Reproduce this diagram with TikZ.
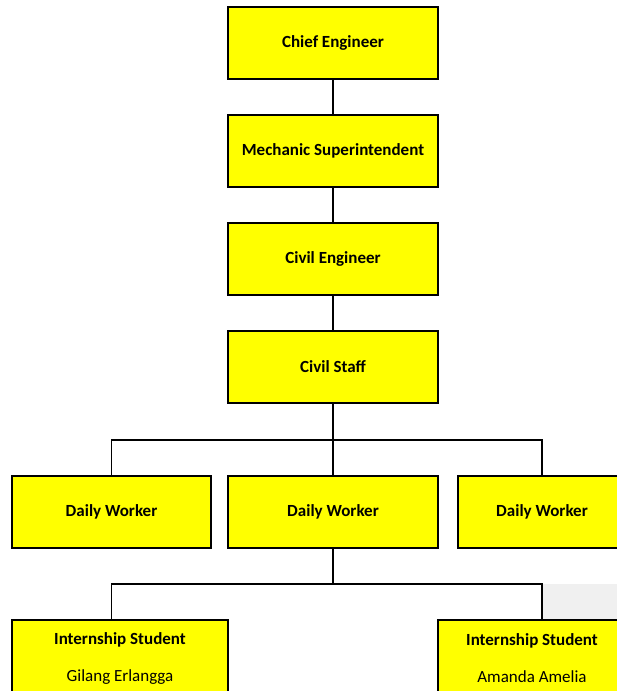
\documentclass[tikz,border=0pt]{standalone}
\usepackage{fontspec}
\setmainfont{Carlito}
\usepackage{tikz}
\usetikzlibrary{positioning,calc}
\definecolor{boxyellow}{RGB}{255,255,0}

\begin{document}
\begin{tikzpicture}[x=1pt,y=-1pt,
  box/.style={draw=black,line width=2pt,fill=boxyellow,minimum height=72pt,inner sep=0pt,font=\bfseries\fontsize{17}{20}\selectfont},
  link/.style={black,line width=1.6pt}]
\useasboundingbox (0,0) rectangle (617,691);
\clip (0,0) rectangle (617,691);
\fill[gray!12] (543,584) rectangle (617,620);
\node[box,minimum width=210pt] (ce) at (333,43) {Chief Engineer};
\node[box,minimum width=210pt] (ms) at (333,151) {Mechanic Superintendent};
\node[box,minimum width=210pt] (cv) at (333,259) {Civil Engineer};
\node[box,minimum width=210pt] (cs) at (333,367) {Civil Staff};
\node[box,minimum width=199pt] (dw1) at (111.5,512) {Daily Worker};
\node[box,minimum width=210pt] (dw2) at (333,512) {Daily Worker};
\node[box,minimum width=168pt] (dw3) at (542,512) {Daily Worker};
\node[box,minimum width=216pt,minimum height=76pt,align=center] (is1) at (120,658) {Internship Student\\[17pt]\mdseries Gilang Erlangga};
\node[box,minimum width=188pt,minimum height=76pt,align=center] (is2) at (532,658) {Internship Student\\[17pt]\mdseries Amanda Amelia};
\coordinate (bar1) at (0,440);
\coordinate (bar2) at (0,584);
\draw[link] (ce) -- (ms);
\draw[link] (ms) -- (cv);
\draw[link] (cv) -- (cs);
\draw[link] (cs) -- (dw2);
\draw[link] (dw1) |- (dw3.north |- bar1) -- (dw3);
\draw[link] (dw2) -- (dw2.south |- bar2);
\draw[link] (dw1.south |- is1.north) -- (dw1.south |- bar2) -- (dw3.south |- bar2) -- (dw3.south |- is2.north);
\end{tikzpicture}
\end{document}
